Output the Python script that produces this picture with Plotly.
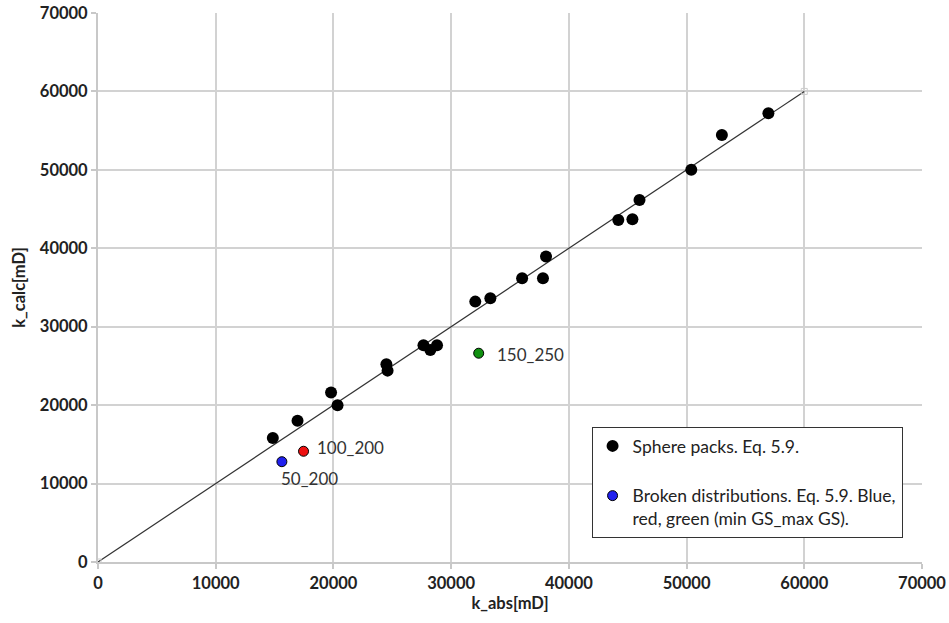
import plotly.graph_objects as go

# Sphere packs (black)
sphere_x = [14850, 16950, 19800, 20350, 24500, 24600, 27650, 28230, 28800,
            32050, 33330, 36030, 37800, 38060, 44200, 45400, 46000, 50400,
            53000, 56950]
sphere_y = [15800, 18000, 21600, 19980, 25200, 24400, 27650, 27040, 27650,
            33200, 33630, 36180, 36180, 38940, 43600, 43700, 46150, 50000,
            54450, 57230]

# Broken distributions (blue, red, green)
broken_labels = ["50_200", "100_200", "150_250"]
broken_x = [15620, 17460, 32340]
broken_y = [12790, 14120, 26620]
broken_colors = ["#2020ee", "#ee1010", "#109010"]

# 1:1 line
line_x = [0, 60000]
line_y = [0, 60000]

tick_vals = [0, 10000, 20000, 30000, 40000, 50000, 60000, 70000]
tick_text = [str(v) for v in tick_vals]

FONT = "Lato"
fig = go.Figure()

fig.add_trace(go.Scatter(
    x=line_x, y=line_y, mode="lines+markers",
    line=dict(color="#333333", width=1.2),
    marker=dict(symbol="square-open", size=6, color="#cccccc"),
    showlegend=False, hoverinfo="skip"))

fig.add_trace(go.Scatter(
    x=sphere_x, y=sphere_y, mode="markers",
    marker=dict(color="black", size=12),
    name="Sphere packs. Eq. 5.9.", legendgroup="a"))

fig.add_trace(go.Scatter(
    x=broken_x[:1], y=broken_y[:1], mode="markers",
    marker=dict(color=broken_colors[0], size=10, line=dict(color="black", width=1)),
    name="Broken distributions. Eq. 5.9. Blue,<br>red, green (min GS_max GS).",
    legendgroup="b"))
fig.add_trace(go.Scatter(
    x=broken_x[1:], y=broken_y[1:], mode="markers",
    marker=dict(color=broken_colors[1:], size=10, line=dict(color="black", width=1)),
    showlegend=False, legendgroup="b"))

offsets = {"50_200": (-3, -17), "100_200": (11, 4), "150_250": (16, -1)}
for lab, x, y in zip(broken_labels, broken_x, broken_y):
    dx, dy = offsets[lab]
    fig.add_annotation(x=x, y=y, text=lab, showarrow=False,
                       xanchor="left", yanchor="middle", xshift=dx, yshift=dy,
                       font=dict(family=FONT, size=17, color="#333333"))

axis_common = dict(
    range=[0, 70000], tickvals=tick_vals, ticktext=tick_text,
    showgrid=True, gridcolor="#d2d2d2", gridwidth=2,
    showline=True, linecolor="#c8c8c8", linewidth=2,
    zeroline=False, ticks="outside", ticklen=5, tickcolor="#c8c8c8", tickwidth=2,
    tickfont=dict(family=FONT, size=16.5, color="#222222", weight="bold"),
    mirror=False, automargin=False,
)

fig.update_layout(
    width=949, height=623,
    margin=dict(l=98, r=27, t=13, b=61),
    paper_bgcolor="white", plot_bgcolor="white",
    xaxis=dict(**axis_common,
               title=dict(text="k_abs[mD]", standoff=6,
                          font=dict(family=FONT, size=16.5, color="#222222", weight="bold"))),
    yaxis=dict(**axis_common,
               title=dict(text="k_calc[mD]", standoff=10,
                          font=dict(family=FONT, size=16.5, color="#222222", weight="bold"))),
    legend=dict(x=0.599, y=0.2459, xanchor="left", yanchor="top",
                bordercolor="#333333", borderwidth=1, bgcolor="white",
                font=dict(family=FONT, size=17.5, color="#222222"),
                traceorder="grouped", tracegroupgap=24, valign="top",
                itemwidth=30),
    showlegend=True,
)

fig.write_html("out.html")
